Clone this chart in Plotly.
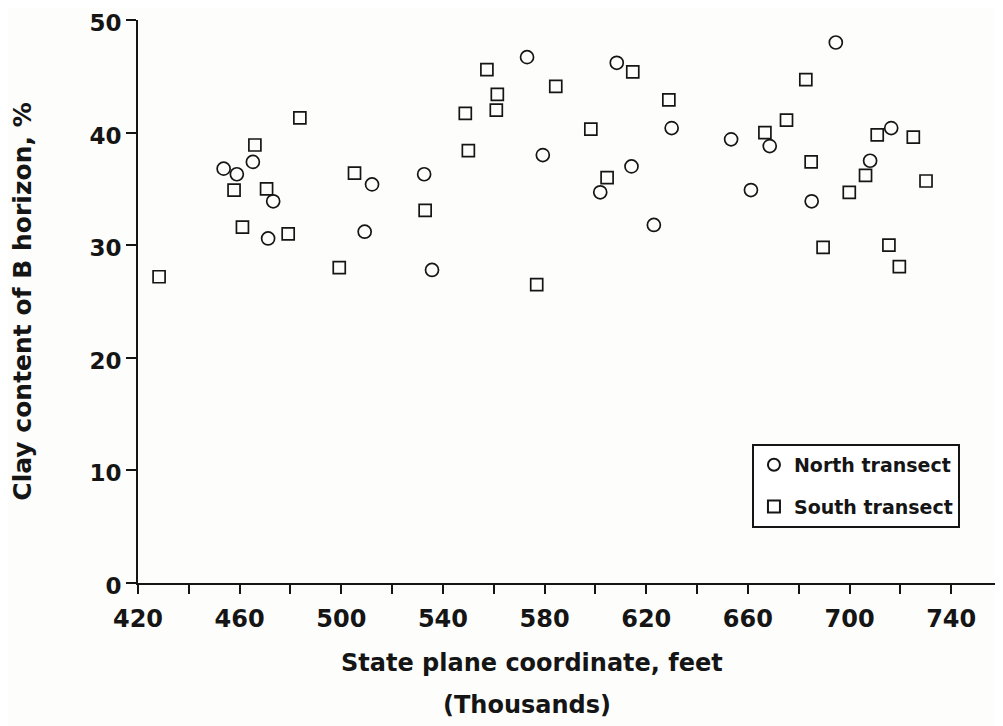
import plotly.graph_objects as go

# North transect (circles)
north_x = [453.7, 458.9, 465.2, 473.2, 471.2, 512.1, 509.2, 532.6, 535.7, 573.1, 579.3,
           608.4, 630.0, 614.2, 601.9, 623.0, 653.4, 668.6, 694.6, 661.2, 685.1, 716.4, 708.1]
north_y = [36.8, 36.3, 37.4, 33.9, 30.6, 35.4, 31.2, 36.3, 27.8, 46.7, 38.0,
           46.2, 40.4, 37.0, 34.7, 31.8, 39.4, 38.8, 48.0, 34.9, 33.9, 40.4, 37.5]

# South transect (squares)
south_x = [428.3, 466.0, 457.8, 470.6, 461.1, 479.1, 483.7, 499.2, 505.2, 533.0, 548.8,
           550.0, 557.3, 561.4, 561.0, 584.4, 576.9, 614.7, 628.9, 598.2, 604.6, 682.8,
           675.2, 666.7, 684.9, 710.9, 725.1, 706.3, 699.9, 730.1, 689.6, 715.5, 719.6]
south_y = [27.2, 38.9, 34.9, 35.0, 31.6, 31.0, 41.3, 28.0, 36.4, 33.1, 41.7,
           38.4, 45.6, 43.4, 42.0, 44.1, 26.5, 45.4, 42.9, 40.3, 36.0, 44.7,
           41.1, 40.0, 37.4, 39.8, 39.6, 36.2, 34.7, 35.7, 29.8, 30.0, 28.1]

x_tickvals = list(range(420, 761, 20))
x_ticktext = [str(v) if (v - 420) % 40 == 0 and v <= 740 else "" for v in x_tickvals]
y_tickvals = [0, 10, 20, 30, 40, 50]
y_ticktext = ["0", "10", "20", "30", "40", "50"]

x_title = "State plane coordinate, feet"
x_subtitle = "(Thousands)"
y_title = "Clay content of B horizon, %"

FONT = "DejaVu Sans"
INK = "#151515"

fig = go.Figure()
fig.add_trace(go.Scatter(
    x=north_x, y=north_y, mode="markers", name="North transect", legendgroup="n",
    marker=dict(symbol="circle-open", size=13, color=INK, line=dict(width=1.7, color=INK)),
))
fig.add_trace(go.Scatter(
    x=south_x, y=south_y, mode="markers", name="South transect", legendgroup="s",
    marker=dict(symbol="square-open", size=12, color=INK, line=dict(width=1.7, color=INK)),
))

fig.update_layout(
    width=995, height=718,
    paper_bgcolor="#fdfdfc", plot_bgcolor="#fdfdfc",
    margin=dict(l=130, r=1, t=12, b=143),
    font=dict(family=FONT, color=INK, size=24, weight="bold"),
    showlegend=True,
    legend=dict(
        x=0.7106, y=0.247, xanchor="left", yanchor="top",
        bgcolor="#ffffff", bordercolor=INK, borderwidth=2,
        font=dict(family=FONT, size=19, color=INK, weight="bold"),
        itemsizing="constant", tracegroupgap=14,
    ),
    xaxis=dict(
        range=[420, 760], tickmode="array", tickvals=x_tickvals, ticktext=x_ticktext,
        showgrid=False, zeroline=False, showline=True, linecolor=INK, linewidth=2,
        ticks="outside", ticklen=9, tickwidth=2, tickcolor=INK,
        ticklabelstandoff=4, ticklabeloverflow="allow",
        tickfont=dict(family=FONT, size=24, color=INK, weight="bold"),
        automargin=False,
    ),
    yaxis=dict(
        range=[0, 50], tickmode="array", tickvals=y_tickvals, ticktext=y_ticktext,
        showgrid=False, zeroline=False, showline=True, linecolor=INK, linewidth=2,
        ticks="outside", ticklen=10, tickwidth=2, tickcolor=INK,
        ticklabeloverflow="allow", ticklabelshift=3,
        tickfont=dict(family=FONT, size=23, color=INK, weight="bold"),
        title=dict(text=y_title, standoff=54,
                   font=dict(family=FONT, size=25, color=INK, weight="bold")),
        automargin=False,
    ),
    annotations=[
        dict(text=x_title, xref="paper", yref="paper", x=0.456, y=-0.142,
             xanchor="center", yanchor="middle", showarrow=False,
             font=dict(family=FONT, size=24, color=INK, weight="bold")),
        dict(text=x_subtitle, xref="paper", yref="paper", x=0.45, y=-0.217,
             xanchor="center", yanchor="middle", showarrow=False,
             font=dict(family=FONT, size=24, color=INK, weight="bold")),
    ],
)

fig.write_html("out.html")
